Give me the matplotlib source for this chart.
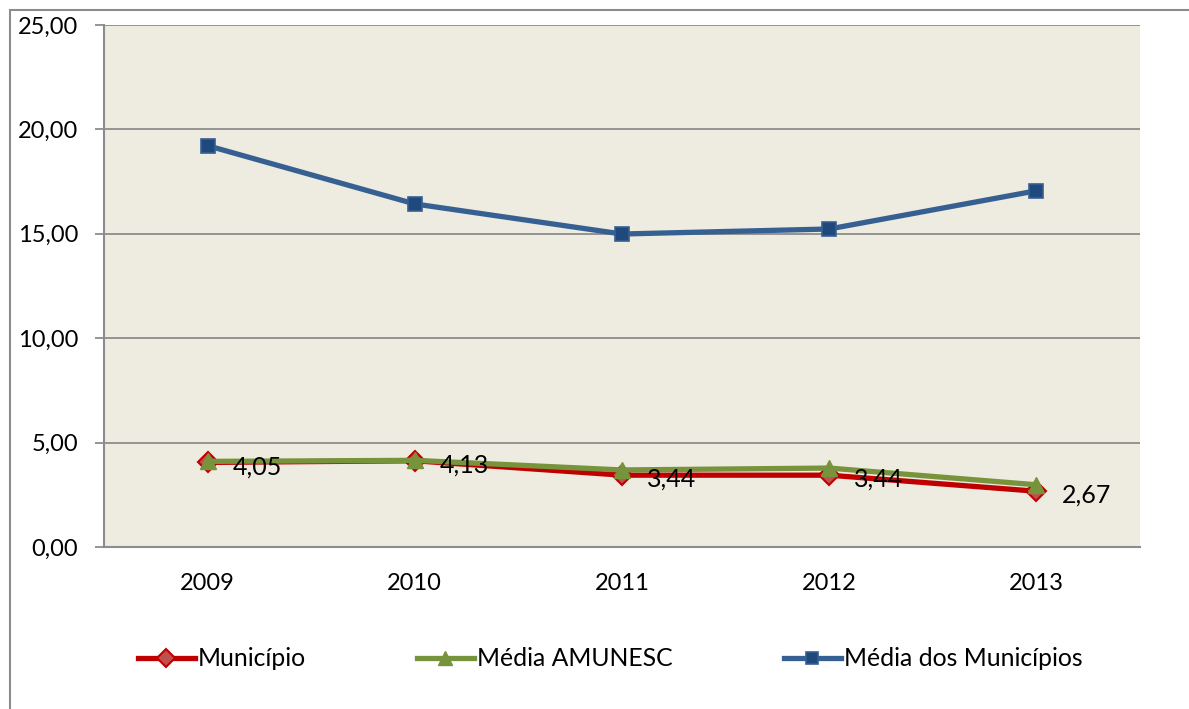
import matplotlib
matplotlib.use("Agg")
import matplotlib.pyplot as plt
from matplotlib.patches import Rectangle
from matplotlib.ticker import FuncFormatter

years = ["2009", "2010", "2011", "2012", "2013"]
municipio = [4.05, 4.13, 3.44, 3.44, 2.67]
media_amunesc = [4.10, 4.15, 3.69, 3.78, 2.98]
media_municipios = [19.22, 16.43, 14.99, 15.23, 17.06]
labels_municipio = ["4,05", "4,13", "3,44", "3,44", "2,67"]

plt.rcParams['font.family'] = ['Lato', 'DejaVu Sans']

W, H = 1189, 709
fig = plt.figure(figsize=(W / 100, H / 100), dpi=100)
fig.patch.set_facecolor("white")

# outer chart frame
fig.patches.append(Rectangle((9.5 / W, -0.1), 1.2, 1.1 - 9.5 / H, transform=fig.transFigure,
                             fill=False, edgecolor="#8c8c8c", linewidth=1.5))

ax = fig.add_axes([104 / W, 1 - 547 / H, (1140 - 104) / W, (547 - 25) / H])
ax.set_facecolor("#EEEBE0")

x = list(range(len(years)))
ax.plot(x, municipio, color="#C00000", lw=3.8, marker="D", ms=10,
        mfc="#C0504D", mec="#C00000", mew=1.5, label="Município", zorder=3)
ax.plot(x, media_amunesc, color="#77933C", lw=3.8, marker="^", ms=11,
        mfc="#77933C", mec="#77933C", label="Média AMUNESC", zorder=4)
ax.plot(x, media_municipios, color="#376092", lw=3.8, marker="s", ms=10,
        mfc="#1F497D", mec="#376092", mew=1.2, label="Média dos Municípios", zorder=3)

for xi, yi, t in zip(x, municipio, labels_municipio):
    ax.annotate(t, (xi, yi), xytext=(18, -3), textcoords="offset points",
                ha="left", va="center", fontsize=18, color="black", zorder=5)

ax.set_xlim(-0.5, len(years) - 0.5)
ax.set_ylim(0, 25)
ax.set_yticks([0, 5, 10, 15, 20, 25])
ax.yaxis.set_major_formatter(FuncFormatter(lambda v, p: f"{v:.2f}".replace(".", ",")))
ax.set_xticks(x)
ax.set_xticklabels(years)

ax.grid(axis="y", color="#8c8c8c", lw=1.3)
ax.set_axisbelow(True)
for s in ["top", "right"]:
    ax.spines[s].set_visible(False)
for s in ["left", "bottom"]:
    ax.spines[s].set_color("#8c8c8c")
    ax.spines[s].set_linewidth(1.5)

ax.tick_params(axis="y", length=6.5, width=1.3, color="#8c8c8c", pad=12, labelsize=17)
ax.tick_params(axis="x", length=0, pad=19, labelsize=17)

handles, labs = ax.get_legend_handles_labels()
leg = fig.legend(handles, labs, loc="center", bbox_to_anchor=(610 / W, 1 - 659 / H),
                 ncol=3, frameon=False, fontsize=17.8, handlelength=2.3,
                 handletextpad=0.12, columnspacing=4.5, markerscale=0.9)

fig.savefig("out.png", dpi=100)
